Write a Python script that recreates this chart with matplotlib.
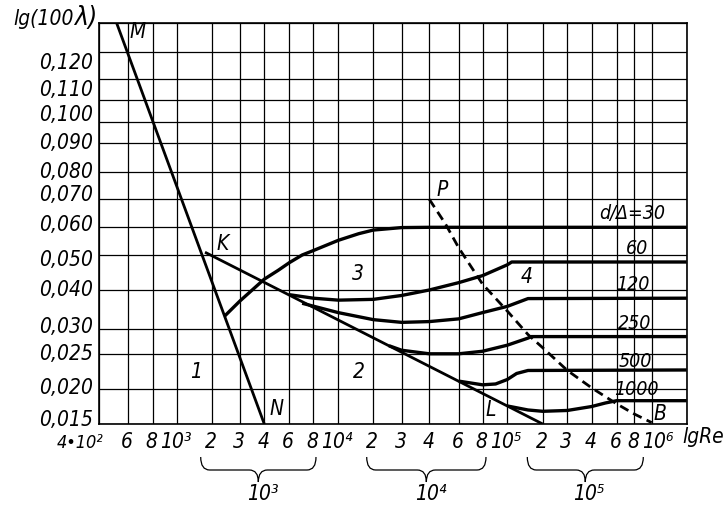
import numpy as np
import matplotlib
matplotlib.use('Agg')
import matplotlib.pyplot as plt
from matplotlib import font_manager as fm
from matplotlib.path import Path
from matplotlib.patches import PathPatch
import matplotlib.transforms as mtransforms

# ---------------- axis ticks / labels ----------------
re_ticks = [4e2, 6e2, 8e2, 1e3, 2e3, 3e3, 4e3, 6e3, 8e3, 1e4, 2e4, 3e4, 4e4, 6e4, 8e4,
            1e5, 2e5, 3e5, 4e5, 6e5, 8e5, 1e6, 2e6]
re_tick_labels = ['4•10^2', '6', '8', '10^3', '2', '3', '4', '6', '8', '10^4',
                  '2', '3', '4', '6', '8', '10^5', '2', '3', '4', '6', '8', '10^6', '']
lam_ticks = [0.015, 0.020, 0.025, 0.030, 0.040, 0.050, 0.060, 0.070, 0.080, 0.090,
             0.100, 0.110, 0.120, 0.130, 0.140]
lam_tick_labels = ['0,015', '0,020', '0,025', '0,030', '0,040', '0,050', '0,060', '0,070',
                   '0,080', '0,090', '0,100', '0,110', '0,120', '', '']

# ---------------- curves (Re, lambda) ----------------
mn_re = [513, 4000]                 # laminar line M-N
mn_lam = [0.140, 0.015]
kl_re = [1743, 2e5]                 # smooth pipes K-L
kl_lam = [0.0510, 0.015]

c30_re = [2400, 3000, 4000, 5000, 6000, 7000, 8000, 1e4, 1.5e4, 2e4, 3e4, 4e4, 2e6]
c30_lam = [0.0333, 0.0372, 0.0431, 0.0456, 0.0478, 0.0500, 0.0516, 0.0553, 0.0577, 0.0590, 0.0599, 0.0600, 0.0600]

c60_re = [6000, 8000, 1e4, 2e4, 3e4, 4e4, 6e4, 8e4, 1e5, 1.09e5, 2e6]
c60_lam = [0.0388, 0.0379, 0.0374, 0.0376, 0.0386, 0.0400, 0.0421, 0.0441, 0.0472, 0.0480, 0.0480]

c120_re = [7000, 1e4, 2e4, 3e4, 4e4, 6e4, 8e4, 1e5, 1.5e5, 2e6]
c120_lam = [0.0366, 0.0342, 0.0324, 0.0317, 0.0319, 0.0326, 0.0342, 0.0358, 0.0378, 0.0379]

c250_re = [2.5e4, 3e4, 4e4, 6e4, 8e4, 1e5, 1.5e5, 1.6e5, 2e6]
c250_lam = [0.0267, 0.0258, 0.0251, 0.0251, 0.0256, 0.0268, 0.0282, 0.0285, 0.0285]

c500_re = [6e4, 8e4, 9e4, 1e5, 1.2e5, 1.5e5, 2e6]
c500_lam = [0.02117, 0.02064, 0.02076, 0.02140, 0.02226, 0.02269, 0.02276]

c1000_re = [1e5, 1.5e5, 2e5, 3e5, 4e5, 5e5, 6e5, 2e6]
c1000_lam = [0.0176, 0.01702, 0.01683, 0.01695, 0.01752, 0.01803, 0.01836, 0.01836]

pb_re = [4e4, 5e4, 6e4, 8e4, 1e5, 1.5e5, 2e5, 3e5, 4e5, 6e5, 8e5, 1e6]
pb_lam = [0.070, 0.0612, 0.0526, 0.0417, 0.0346, 0.0289, 0.0263, 0.0227, 0.0202, 0.0179, 0.01644, 0.0152]

curve_labels = ['d/Δ=30', '60', '120', '250', '500', '1000']
curve_label_re = [7.7e5, 8.3e5, 7.8e5, 8.0e5, 8.1e5, 8.2e5]
curve_label_lam = [0.0648, 0.0525, 0.0417, 0.0315, 0.0240, 0.0200]

point_labels = ['M', 'K', 'P', 'N', 'L', 'B', '1', '2', '3', '4']
point_re = [676, 2346, 4.77e4, 4836, 8.64e4, 1.18e6, 1461, 1.507e4, 1.477e4, 1.471e5]
point_lam = [0.1369, 0.0540, 0.0734, 0.01716, 0.01702, 0.01644, 0.02247, 0.02247, 0.04457, 0.04371]

brace_labels = ['10^3', '10^4', '10^5']

# ---------------- drawn (schematic) axis geometry ----------------
X_POS = [0, 28.4, 53.4, 77.4, 112.7, 140.7, 165.0, 190.0, 214.0, 239.0, 274.0, 302.4,
         330.0, 359.4, 383.2, 408.0, 443.4, 468.0, 492.4, 517.4, 535.0, 552.4, 587.4]
Y_POS = [0, 34.7, 69.7, 95, 134, 169, 196.7, 224.7, 252.3, 280.7, 301.7, 324, 344.7, 372.3, 400.7]
LOG_RE = np.log10(re_ticks)


def fx(v):
    v = np.asarray(v, dtype=float)
    return np.interp(np.log10(np.clip(v, 1e-6, None)), LOG_RE, X_POS)


def fx_inv(p):
    return 10 ** np.interp(np.asarray(p, dtype=float), X_POS, LOG_RE)


def fy(v):
    return np.interp(np.asarray(v, dtype=float), lam_ticks, Y_POS)


def fy_inv(p):
    return np.interp(np.asarray(p, dtype=float), Y_POS, lam_ticks)


# ---------------- fonts (narrow italic if available) ----------------
ttf = fm.fontManager.ttflist
names = {f.name for f in ttf}
dv_cond = any(f.name == 'DejaVu Sans' and 'Condensed' in f.fname and 'Oblique' in f.fname for f in ttf)
USE_MATH = True
if 'Liberation Sans Narrow' in names:
    FAM = ['Liberation Sans Narrow', 'DejaVu Sans']
    FS, FS_S = 16, 15
elif dv_cond:
    FAM = ['DejaVu Sans']
    plt.rcParams['font.stretch'] = 'condensed'
    FS, FS_S = 15, 14
    USE_MATH = False
else:
    FAM = ['Liberation Sans', 'DejaVu Sans']
    FS, FS_S = 14, 14
plt.rcParams['font.family'] = FAM
plt.rcParams['font.style'] = 'italic'
plt.rcParams['mathtext.fontset'] = 'custom'
plt.rcParams['mathtext.rm'] = FAM[0] + ':italic'
plt.rcParams['mathtext.it'] = FAM[0] + ':italic'

SUPS = {'2': '²', '3': '³', '4': '⁴', '5': '⁵', '6': '⁶'}


def fmt(lab):
    if '^' not in lab:
        return lab
    base, e = lab.split('^')
    if USE_MATH:
        if '•' in base:
            return base.replace('10', '') + '$10^{' + e + '}$'
        return '$' + base + '^{' + e + '}$'
    return base + SUPS[e]


W, H = 727, 507
fig = plt.figure(figsize=(W / 100, H / 100), dpi=100)
ax = fig.add_axes([99.3 / W, (H - 424) / H, 587.4 / W, 400.7 / H])
ax.set_xscale('function', functions=(fx, fx_inv))
ax.set_yscale('function', functions=(fy, fy_inv))
ax.set_xlim(400, 2e6)
ax.set_ylim(0.015, 0.140)
ax.set_xticks(re_ticks)
ax.set_yticks(lam_ticks)
ax.minorticks_off()
ax.tick_params(length=0, labelbottom=False, labelleft=False)
ax.grid(True, color='black', lw=0.9)
ax.set_axisbelow(True)
for s in ax.spines.values():
    s.set_linewidth(1.2)

LW = 2.4
ax.plot(mn_re, mn_lam, color='black', lw=2.0, solid_capstyle='butt')
ax.plot(kl_re, kl_lam, color='black', lw=2.0, solid_capstyle='butt')
for xs, ys in [(c30_re, c30_lam), (c60_re, c60_lam), (c120_re, c120_lam),
               (c250_re, c250_lam), (c500_re, c500_lam), (c1000_re, c1000_lam)]:
    ax.plot(xs, ys, color='black', lw=LW, solid_capstyle='butt', solid_joinstyle='round')
ax.plot(pb_re, pb_lam, color='black', lw=2.0, linestyle=(0, (3.4, 2.0)))

# x labels
trans_x = mtransforms.blended_transform_factory(ax.transData, ax.transAxes)
for r, lab in zip(re_ticks, re_tick_labels):
    if not lab:
        continue
    first = '•' in lab
    ha = 'right' if first else 'center'
    dx = 6 if lab == '10^6' else (4 if first else -1)
    t = mtransforms.offset_copy(trans_x, fig=fig, x=dx, y=0, units='dots')
    ax.text(r, -0.0599, fmt(lab), transform=t, ha=ha, va='baseline',
            fontsize=FS - 2 if first else FS, clip_on=False)

# y labels
trans_y = mtransforms.blended_transform_factory(ax.transAxes, ax.transData)
y_dy = [4, 1, 0, 2, 0, -5, 2, 4, 0, 0, 7, 10, 16]
for lam, lab, dy in zip(lam_ticks, lam_tick_labels, y_dy):
    t = mtransforms.offset_copy(trans_y, fig=fig, x=0, y=dy, units='dots')
    ax.text(-0.011, lam, lab, transform=t, ha='right', va='center', fontsize=FS, clip_on=False)

for lab, r, l in zip(curve_labels, curve_label_re, curve_label_lam):
    ax.text(r, l, lab, ha='center', va='center', fontsize=FS_S)
for lab, r, l in zip(point_labels, point_re, point_lam):
    ax.text(r, l, lab, ha='center', va='center', fontsize=FS)

# axis titles
t1 = fig.text(13 / W, (H - 25) / H, 'lg(100', ha='left', va='baseline', fontsize=FS)
fig.canvas.draw()
bb = t1.get_window_extent()
fig.text((bb.x1 + 1) / W, (H - 25) / H, 'λ)', ha='left', va='baseline', fontsize=FS + 4)
fig.text(703 / W, (H - 437) / H, 'lgRe', ha='center', va='center', fontsize=FS)

# braces below x axis
brace_px = [(200.7, 316.0), (366.7, 486.0), (527.3, 643.3)]
for (x0, x1), lab in zip(brace_px, brace_labels):
    xc = (x0 + x1) / 2
    yt, ym, yc = 457, 470, 482
    pts = [(x0, yt), (x0, ym), (x0 + 9, ym), (xc - 9, ym), (xc, ym), (xc, yc),
           (xc, ym), (xc + 9, ym), (x1 - 9, ym), (x1, ym), (x1, yt)]
    codes = [Path.MOVETO, Path.CURVE3, Path.CURVE3, Path.LINETO, Path.CURVE3, Path.CURVE3,
             Path.CURVE3, Path.CURVE3, Path.LINETO, Path.CURVE3, Path.CURVE3]
    verts = [(px / W, (H - py) / H) for px, py in pts]
    fig.add_artist(PathPatch(Path(verts, codes), transform=fig.transFigure,
                             fill=False, lw=0.9, color='black'))
    fig.text((xc + 4) / W, (H - 494) / H, fmt(lab), ha='center', va='center', fontsize=FS)

fig.savefig('out.png', dpi=100)
